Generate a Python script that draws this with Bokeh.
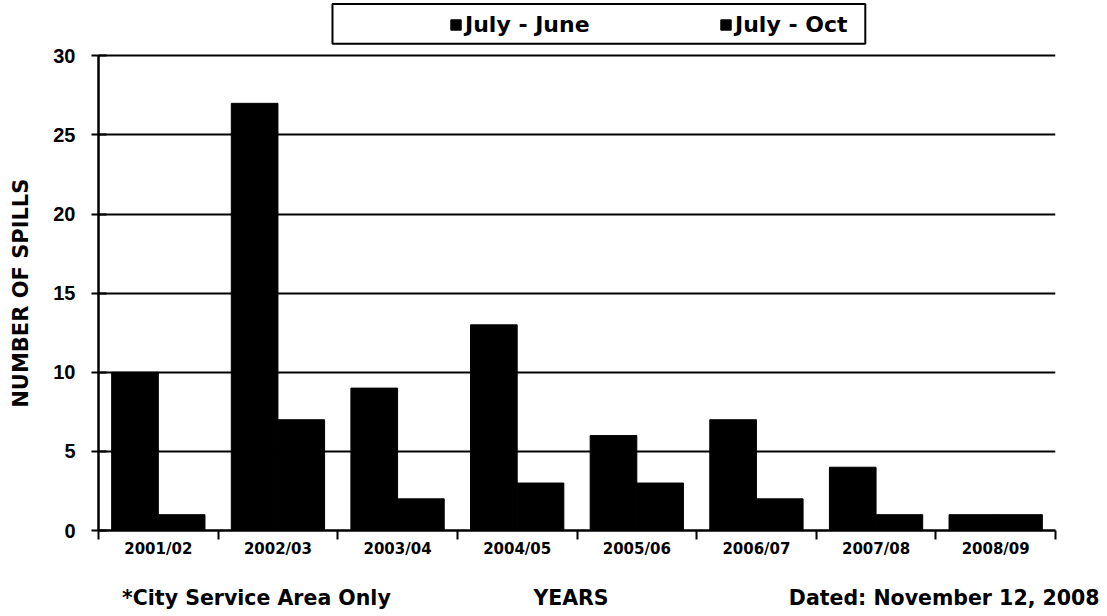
from bokeh.plotting import figure
from bokeh.models import (ColumnDataSource, Range1d, FixedTicker, Legend, LegendItem,
                          BoxAnnotation, LinearAxis)
from bokeh.transform import dodge
from bokeh.embed import file_html
from bokeh.resources import INLINE

# ---- data ----
categories = ["2001/02", "2002/03", "2003/04", "2004/05", "2005/06", "2006/07", "2007/08", "2008/09"]
july_june = [10, 27, 9, 13, 6, 7, 4, 1]
july_oct = [1, 7, 2, 3, 3, 2, 1, 1]
series_names = ["July - June", "July - Oct"]
y_ticks = [0, 5, 10, 15, 20, 25, 30]
y_max = 30
y_title = "NUMBER OF SPILLS"
footer_texts = ["*City Service Area Only", "YEARS", "Dated: November 12, 2008"]

# ---- layout constants (not data) ----
Y_VIEW_TOP = 33.5          # room above the value axis for the legend box
FOOTER_POS = [1.32, 3.95, 7.07]

centers = [i + 0.5 for i in range(len(categories))]
boundaries = list(range(len(categories) + 1))
source = ColumnDataSource(dict(x=centers, jj=july_june, jo=july_oct, cat=categories))

FONT = "DejaVu Sans"

p = figure(width=1104, height=612,
           x_range=Range1d(0, len(categories)), y_range=Range1d(0, Y_VIEW_TOP),
           output_backend="svg", toolbar_location=None,
           min_border_left=98, min_border_right=49, min_border_top=0, min_border_bottom=82)
p.outline_line_color = None
p.background_fill_color = "white"

r1 = p.vbar(x=dodge("x", -0.195, range=p.x_range), top="jj", width=0.39, source=source,
            fill_color="black", line_color="black")
r2 = p.vbar(x=dodge("x", 0.195, range=p.x_range), top="jo", width=0.39, source=source,
            fill_color="black", line_color="black")

# x axis: labels at centres, ticks at category boundaries
xa = p.xaxis[0]
xa.ticker = FixedTicker(ticks=centers, minor_ticks=boundaries)
xa.major_label_overrides = {c: lab for c, lab in zip(centers, categories)}
xa.major_tick_in = 0
xa.major_tick_out = 0
xa.minor_tick_in = 0
xa.minor_tick_out = 9
xa.minor_tick_line_color = "black"
xa.minor_tick_line_width = 2
xa.axis_line_color = "black"
xa.axis_line_width = 2.5
xa.major_label_standoff = 0
xa.major_label_text_font = FONT
xa.major_label_text_font_style = "bold"
xa.major_label_text_font_size = "15px"
xa.major_label_text_color = "black"

# footer row (footnote, axis title, date) as a second, line-less axis
fa = LinearAxis(ticker=FixedTicker(ticks=FOOTER_POS, minor_ticks=[]),
                major_label_overrides={pos: t for pos, t in zip(FOOTER_POS, footer_texts)},
                axis_line_color=None, major_tick_line_color=None, minor_tick_line_color=None,
                major_label_standoff=19,
                major_label_text_font=FONT, major_label_text_font_style="bold",
                major_label_text_font_size="20.5px", major_label_text_color="black")
p.add_layout(fa, "below")

# y axis
ya = p.yaxis[0]
ya.ticker = FixedTicker(ticks=y_ticks)
ya.bounds = (0, y_max)
ya.major_tick_in = 8
ya.major_tick_out = 7
ya.major_tick_line_width = 2
ya.major_tick_line_color = "black"
ya.minor_tick_line_color = None
ya.axis_line_width = 2.5
ya.axis_line_color = "black"
ya.major_label_standoff = 16
ya.major_label_text_font = "Liberation Sans"
ya.major_label_text_font_style = "bold"
ya.major_label_text_font_size = "20px"
ya.major_label_text_color = "black"

# y title, centred on the 0..30 value span, as a second line-less axis
title_pos = (y_ticks[0] + y_ticks[-1]) / 2
ta = LinearAxis(ticker=FixedTicker(ticks=[title_pos], minor_ticks=[]),
                major_label_overrides={title_pos: y_title},
                major_label_orientation="parallel",
                axis_line_color=None, major_tick_line_color=None, minor_tick_line_color=None,
                major_label_standoff=11,
                major_label_text_font=FONT, major_label_text_font_style="bold",
                major_label_text_font_size="21px", major_label_text_color="black")
p.add_layout(ta, "left")

p.xgrid.visible = False
p.ygrid.grid_line_color = "black"
p.ygrid.grid_line_width = 2

# legend
legend = Legend(items=[LegendItem(label=series_names[0], renderers=[r1]),
                       LegendItem(label=series_names[1], renderers=[r2])],
                orientation="horizontal", location=(351, 493),
                glyph_width=13, glyph_height=13, label_standoff=3, label_width=254,
                spacing=0, padding=4, margin=0,
                border_line_color=None, background_fill_alpha=0,
                label_text_font=FONT, label_text_font_style="bold",
                label_text_font_size="22px", label_text_color="black")
p.add_layout(legend, "center")

# frame drawn around the legend (above the value area)
box = BoxAnnotation(left=1.956, right=6.41, top=33.28, bottom=30.76,
                    fill_alpha=0, line_color="black", line_alpha=1, line_width=2)
p.add_layout(box)

open("out.html", "w").write(file_html(p, INLINE))
